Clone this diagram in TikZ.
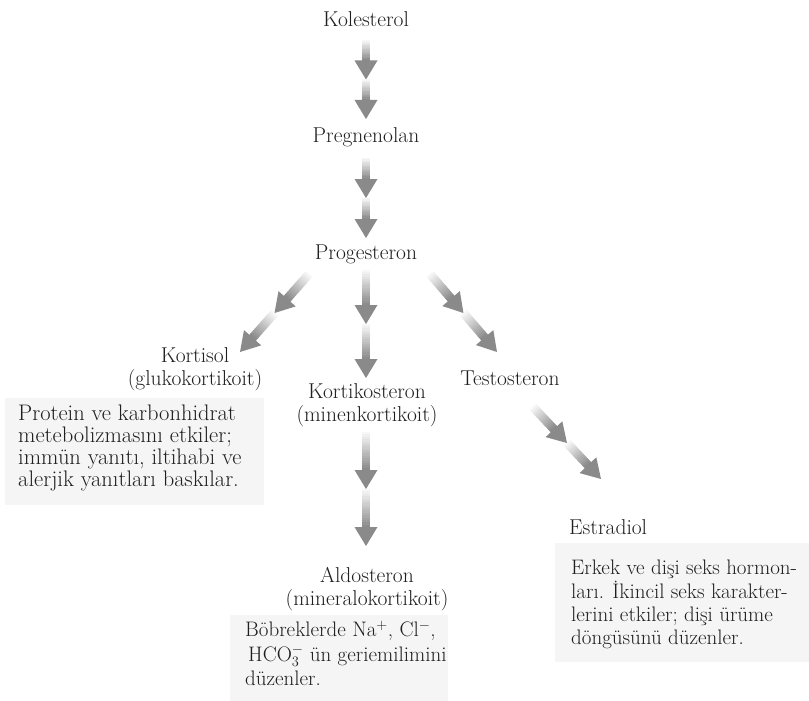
\documentclass[tikz,border=0pt]{standalone}
\usetikzlibrary{calc}

% Two-stage grey arrow: each half has a shaft that fades from near white
% to grey, followed by a solid grey head.
\newcommand\gradarrow[2]{%
  \path let \p1=($(#2)-(#1)$) in \pgfextra{%
    \pgfmathsetmacro\gangle{atan2(\y1,\x1)}\xdef\garang{\gangle}%
    \pgfmathsetmacro\glen{veclen(\x1,\y1)}\xdef\garlen{\glen}};
  \begin{scope}[shift={(#1)},rotate=\garang]
    \pgfmathsetmacro\ghalf{\garlen/2}
    \pgfmathsetmacro\gshaft{\ghalf-19}
    \foreach \gseg in {0,1}{
      \pgfmathsetmacro\goff{\gseg*\ghalf}
      \foreach \gk in {0,...,15}{
        \pgfmathsetmacro\ga{\goff+\gk*\gshaft/16}
        \pgfmathsetmacro\gb{\goff+(\gk+1)*\gshaft/16+0.6}
        \pgfmathsetmacro\gc{3+42*\gk/15}
        \fill[black!\gc] (\ga pt,-4.4pt) rectangle (\gb pt,4.4pt);
      }
      \pgfmathsetmacro\gbase{\goff+\gshaft}
      \pgfmathsetmacro\gtip{\goff+\ghalf}
      \fill[headgrey] (\gbase pt,-11.5pt) -- (\gtip pt,0pt) -- (\gbase pt,11.5pt) -- cycle;
    }
  \end{scope}}

\begin{document}
\begin{tikzpicture}[x=1pt,y=-1pt,
  lbl/.style={inner sep=0pt, text=inkgrey, align=center,
    font=\fontsize{21.5}{23.5}\selectfont},
  txtbox/.style={anchor=north west, inner sep=0pt, text=inkgrey, align=left},
  panel/.style={fill=black!4, draw=none}]
\colorlet{inkgrey}{black!88}
\colorlet{headgrey}{black!46}

\useasboundingbox (0,0) rectangle (809,701);
\fill[white] (0,0) rectangle (809,701);

% light panels behind the descriptions
\fill[panel] (5,398) rectangle (264,505);
\fill[panel] (230,615) rectangle (448,701);
\fill[panel] (555,543) rectangle (809,662);

% compounds
\node[lbl] (kol)    at (366,19)  {Kolesterol};
\node[lbl] (preg)   at (366,137) {Pregnenolan};
\node[lbl] (prog)   at (366,254) {Progesteron};
\node[lbl] (kort)   at (195,369) {Kortisol\\(glukokortikoit)};
\node[lbl] (kortik) at (367,405) {Kortikosteron\\(minenkortikoit)};
\node[lbl] (testo)  at (510,378) {Testosteron};
\node[lbl] (aldo)   at (367,589) {Aldosteron\\(mineralokortikoit)};
\node[lbl, anchor=west] (estr) at (569,527) {Estradiol};

% descriptions
\node[txtbox, font=\fontsize{22.5}{22}\selectfont] (kortdesc) at (18,405)
  {Protein ve karbonhidrat\\metebolizmasını etkiler;\\immün yanıtı, iltihabi ve\\alerjik yanıtları baskılar.};
\node[txtbox, font=\fontsize{21}{24.5}\selectfont] (aldodesc) at (245,622)
  {Böbreklerde Na\smash{$^{+}$}, Cl\smash{$^{-}$},\\\hspace{3pt}HCO\smash{$_3^{-}$} ün geriemilimini\\düzenler.};
\node[txtbox, font=\fontsize{21}{23.3}\selectfont] (estrdesc) at (571,560)
  {Erkek ve dişi seks hormon-\\ları. İkincil seks karakter-\\lerini etkiler; dişi ürüme\\döngüsünü düzenler.};

% arrow end points
\coordinate (kolout)    at (366,40);
\coordinate (pregin)    at (366,119);
\coordinate (pregout)   at (366,158);
\coordinate (progin)    at (366,238);
\coordinate (progoutl)  at (309,274);
\coordinate (kortin)    at (240,352);
\coordinate (progoutm)  at (366,270);
\coordinate (kortikin)  at (366,378);
\coordinate (progoutr)  at (430,274);
\coordinate (testoin)   at (497,352);
\coordinate (kortikout) at (366,432);
\coordinate (aldoin)    at (366,546);
\coordinate (testoout)  at (533,407);
\coordinate (estrin)    at (601,479);

% pathway arrows
\gradarrow{kolout}{pregin}
\gradarrow{pregout}{progin}
\gradarrow{progoutl}{kortin}
\gradarrow{progoutm}{kortikin}
\gradarrow{progoutr}{testoin}
\gradarrow{kortikout}{aldoin}
\gradarrow{testoout}{estrin}
\end{tikzpicture}
\end{document}
